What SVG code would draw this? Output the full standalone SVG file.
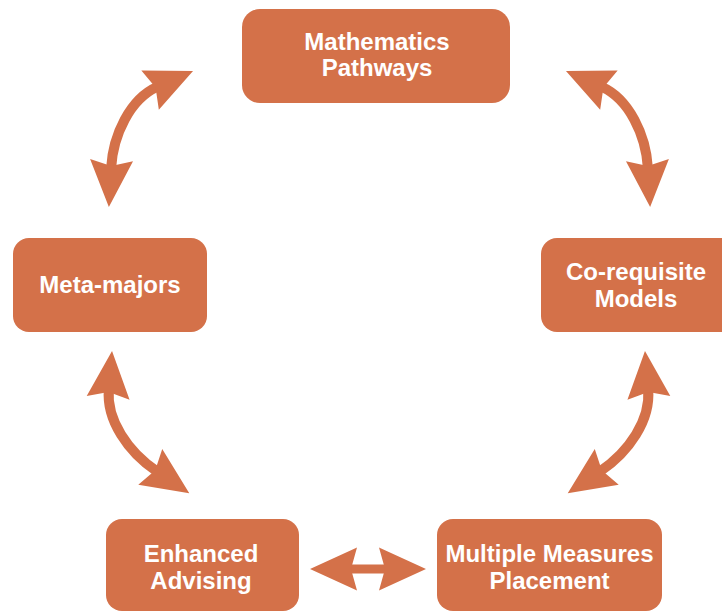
<svg xmlns="http://www.w3.org/2000/svg" width="722" height="612" viewBox="0 0 722 612">
  <style>
    .box { fill: #D47149; }
    .lbl { font-family: "Liberation Sans", Arial, sans-serif; font-weight: bold; font-size: 24px; fill: #FFFFFF; text-anchor: middle; }
    .arr { fill: none; stroke: #D47149; stroke-width: 10; marker-start: url(#head); marker-end: url(#head); }
  </style>
  <defs>
    <marker id="head" markerUnits="userSpaceOnUse" markerWidth="60" markerHeight="60" refX="8" refY="0" orient="auto-start-reverse" overflow="visible">
      <path d="M0,-21.5 L47,0 L0,21.5 L6,0 Z" fill="#D47149"/>
    </marker>
  </defs>
  <rect width="722" height="612" fill="#FFFFFF"/>
  <g id="connectors">
    <path class="arr" d="M157.4,86.8 C130,99 113,135 111.1,168.1"/>
    <path class="arr" d="M601.6,86.8 C629,99 646,135 647.9,168.1"/>
    <path class="arr" d="M648.2,389.9 C650.7,420 629,452 600.1,471.4"/>
    <path class="arr" d="M108.8,389.9 C106.3,420 128,452 156.9,471.4"/>
    <path class="arr" style="stroke-width:9" d="M349,569 L387,569"/>
  </g>
  <g id="node-math">
    <rect class="box" x="242" y="9" width="268" height="94" rx="18"/>
    <text class="lbl" x="377" y="49.5">Mathematics</text>
    <text class="lbl" x="377" y="76">Pathways</text>
  </g>
  <g id="node-meta">
    <rect class="box" x="13" y="238" width="194" height="94" rx="16"/>
    <text class="lbl" x="110" y="293">Meta-majors</text>
  </g>
  <g id="node-coreq">
    <rect class="box" x="541" y="238" width="200" height="94" rx="16"/>
    <text class="lbl" x="636" y="280">Co-requisite</text>
    <text class="lbl" x="636" y="306.5">Models</text>
  </g>
  <g id="node-advising">
    <rect class="box" x="106" y="519" width="193" height="92" rx="16"/>
    <text class="lbl" x="201" y="562">Enhanced</text>
    <text class="lbl" x="201" y="588.5">Advising</text>
  </g>
  <g id="node-mmp">
    <rect class="box" x="437" y="519" width="225" height="92" rx="16"/>
    <text class="lbl" x="549.5" y="562">Multiple Measures</text>
    <text class="lbl" x="549.5" y="588.5">Placement</text>
  </g>
</svg>
